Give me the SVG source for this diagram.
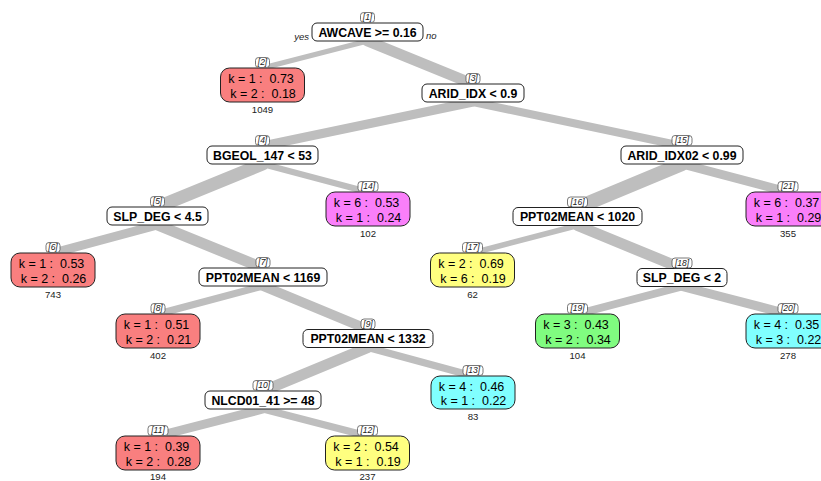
<svg xmlns="http://www.w3.org/2000/svg" width="821" height="481" viewBox="0 0 821 481">
<style>
.br{stroke:#bebebe;stroke-linecap:round;fill:none}
.sp{fill:#fff;stroke:#222;stroke-width:1}
.lf{stroke:#222;stroke-width:1}
.st{font-family:"Liberation Sans",Arial,sans-serif;font-weight:bold;font-size:12.3px;fill:#000;text-anchor:middle}
.lt{font-family:"Liberation Sans",Arial,sans-serif;font-size:12.5px;fill:#000;text-anchor:middle;white-space:pre}
.ct{font-family:"Liberation Sans",Arial,sans-serif;font-size:9.6px;fill:#222;text-anchor:middle}
.tg{fill:#fff;stroke:#555;stroke-width:0.8}
.tt{font-family:"Liberation Sans",Arial,sans-serif;font-style:italic;font-size:8.5px;fill:#222;text-anchor:middle}
.yn{font-family:"Liberation Sans",Arial,sans-serif;font-style:italic;font-size:9.5px;fill:#222}
.red{fill:#f97f7f}.mag{fill:#fa7ffa}.yel{fill:#ffff80}.grn{fill:#80fc80}.cyn{fill:#80ffff}
</style>
<g id="connectors">
<line class="br" stroke-width="5" x1="367.5" y1="41" x2="262.5" y2="68"/>
<line class="br" stroke-width="11" x1="367.5" y1="41" x2="473" y2="84"/>
<line class="br" stroke-width="9" x1="473" y1="102" x2="262.5" y2="146"/>
<line class="br" stroke-width="8" x1="473" y1="102" x2="682" y2="146"/>
<line class="br" stroke-width="13" x1="262.5" y1="164" x2="157.5" y2="207"/>
<line class="br" stroke-width="6" x1="262.5" y1="164" x2="368" y2="192"/>
<line class="br" stroke-width="14" x1="682" y1="164" x2="577.5" y2="207.5"/>
<line class="br" stroke-width="9" x1="682" y1="164" x2="788" y2="192"/>
<line class="br" stroke-width="9" x1="157.5" y1="225" x2="53" y2="253"/>
<line class="br" stroke-width="11" x1="157.5" y1="225" x2="263" y2="268"/>
<line class="br" stroke-width="5.5" x1="577.5" y1="225.5" x2="472.5" y2="253"/>
<line class="br" stroke-width="11" x1="577.5" y1="225.5" x2="682" y2="268.5"/>
<line class="br" stroke-width="7" x1="263" y1="286" x2="158" y2="314"/>
<line class="br" stroke-width="10" x1="263" y1="286" x2="368" y2="329.5"/>
<line class="br" stroke-width="8" x1="682" y1="286.5" x2="577.5" y2="314"/>
<line class="br" stroke-width="9" x1="682" y1="286.5" x2="788" y2="314"/>
<line class="br" stroke-width="11" x1="368" y1="347.5" x2="263" y2="391"/>
<line class="br" stroke-width="7" x1="368" y1="347.5" x2="473" y2="376"/>
<line class="br" stroke-width="9" x1="263" y1="409" x2="158" y2="436"/>
<line class="br" stroke-width="7" x1="263" y1="409" x2="367.5" y2="436"/>
</g>
<text class="yn" x="309" y="40" text-anchor="end">yes</text>
<text class="yn" x="426" y="39">no</text>
<g id="n1"><rect class="sp" x="312" y="23" width="111" height="18" rx="5"/><text class="st" x="367.5" y="36.5">AWCAVE &gt;= 0.16</text><rect class="tg" x="360.5" y="12.5" width="14" height="10" rx="3"/><text class="tt" x="367.5" y="20.2">[1]</text></g>
<g id="n3"><rect class="sp" x="422" y="84" width="102" height="18" rx="5"/><text class="st" x="473" y="97.5">ARID_IDX &lt; 0.9</text><rect class="tg" x="466" y="73.5" width="14" height="10" rx="3"/><text class="tt" x="473" y="81.2">[3]</text></g>
<g id="n4"><rect class="sp" x="207" y="146" width="111" height="18" rx="5"/><text class="st" x="262.5" y="159.5">BGEOL_147 &lt; 53</text><rect class="tg" x="255.5" y="135.5" width="14" height="10" rx="3"/><text class="tt" x="262.5" y="143.2">[4]</text></g>
<g id="n15"><rect class="sp" x="621" y="146" width="122" height="18" rx="5"/><text class="st" x="682" y="159.5">ARID_IDX02 &lt; 0.99</text><rect class="tg" x="672" y="135.5" width="20" height="10" rx="3"/><text class="tt" x="682" y="143.2">[15]</text></g>
<g id="n5"><rect class="sp" x="107" y="207" width="101" height="18" rx="5"/><text class="st" x="157.5" y="220.5">SLP_DEG &lt; 4.5</text><rect class="tg" x="150.5" y="196.5" width="14" height="10" rx="3"/><text class="tt" x="157.5" y="204.2">[5]</text></g>
<g id="n16"><rect class="sp" x="513" y="207.5" width="129" height="18" rx="5"/><text class="st" x="577.5" y="221">PPT02MEAN &lt; 1020</text><rect class="tg" x="567.5" y="197" width="20" height="10" rx="3"/><text class="tt" x="577.5" y="204.7">[16]</text></g>
<g id="n7"><rect class="sp" x="199" y="268" width="128" height="18" rx="5"/><text class="st" x="263" y="281.5">PPT02MEAN &lt; 1169</text><rect class="tg" x="256" y="257.5" width="14" height="10" rx="3"/><text class="tt" x="263" y="265.2">[7]</text></g>
<g id="n18"><rect class="sp" x="637" y="268.5" width="90" height="18" rx="5"/><text class="st" x="682" y="282">SLP_DEG &lt; 2</text><rect class="tg" x="672" y="258" width="20" height="10" rx="3"/><text class="tt" x="682" y="265.7">[18]</text></g>
<g id="n9"><rect class="sp" x="303" y="329.5" width="130" height="18" rx="5"/><text class="st" x="368" y="343">PPT02MEAN &lt; 1332</text><rect class="tg" x="361" y="319" width="14" height="10" rx="3"/><text class="tt" x="368" y="326.7">[9]</text></g>
<g id="n10"><rect class="sp" x="205" y="391" width="116" height="18" rx="5"/><text class="st" x="263" y="404.5">NLCD01_41 &gt;= 48</text><rect class="tg" x="253" y="380.5" width="20" height="10" rx="3"/><text class="tt" x="263" y="388.2">[10]</text></g>
<g id="n2"><rect class="lf red" x="220.5" y="68" width="84" height="34" rx="9"/><text class="lt" x="261" y="83">k = 1 :  0.73</text><text class="lt" x="263" y="98">k = 2 :  0.18</text><text class="ct" x="262.5" y="113">1049</text><rect class="tg" x="255.5" y="57.5" width="14" height="10" rx="3"/><text class="tt" x="262.5" y="65.2">[2]</text></g>
<g id="n14"><rect class="lf mag" x="326" y="192" width="84" height="34" rx="9"/><text class="lt" x="366.5" y="207">k = 6 :  0.53</text><text class="lt" x="368.5" y="222">k = 1 :  0.24</text><text class="ct" x="368" y="237">102</text><rect class="tg" x="358" y="181.5" width="20" height="10" rx="3"/><text class="tt" x="368" y="189.2">[14]</text></g>
<g id="n6"><rect class="lf red" x="11" y="253" width="84" height="34" rx="9"/><text class="lt" x="51.5" y="268">k = 1 :  0.53</text><text class="lt" x="53.5" y="283">k = 2 :  0.26</text><text class="ct" x="53" y="298">743</text><rect class="tg" x="46" y="242.5" width="14" height="10" rx="3"/><text class="tt" x="53" y="250.2">[6]</text></g>
<g id="n8"><rect class="lf red" x="116" y="314" width="84" height="34" rx="9"/><text class="lt" x="156.5" y="329">k = 1 :  0.51</text><text class="lt" x="158.5" y="344">k = 2 :  0.21</text><text class="ct" x="158" y="359">402</text><rect class="tg" x="151" y="303.5" width="14" height="10" rx="3"/><text class="tt" x="158" y="311.2">[8]</text></g>
<g id="n13"><rect class="lf cyn" x="431" y="376" width="84" height="33" rx="9"/><text class="lt" x="471.5" y="390.5">k = 4 :  0.46</text><text class="lt" x="473.5" y="405">k = 1 :  0.22</text><text class="ct" x="473" y="420">83</text><rect class="tg" x="463" y="365.5" width="20" height="10" rx="3"/><text class="tt" x="473" y="373.2">[13]</text></g>
<g id="n11"><rect class="lf red" x="116" y="436" width="84" height="34" rx="9"/><text class="lt" x="156.5" y="451">k = 1 :  0.39</text><text class="lt" x="158.5" y="466">k = 2 :  0.28</text><text class="ct" x="158" y="480">194</text><rect class="tg" x="148" y="425.5" width="20" height="10" rx="3"/><text class="tt" x="158" y="433.2">[11]</text></g>
<g id="n12"><rect class="lf yel" x="325.5" y="436" width="84" height="34" rx="9"/><text class="lt" x="366" y="451">k = 2 :  0.54</text><text class="lt" x="368" y="466">k = 1 :  0.19</text><text class="ct" x="367.5" y="480">237</text><rect class="tg" x="357.5" y="425.5" width="20" height="10" rx="3"/><text class="tt" x="367.5" y="433.2">[12]</text></g>
<g id="n21"><rect class="lf mag" x="746" y="192" width="84" height="34" rx="9"/><text class="lt" x="786.5" y="207">k = 6 :  0.37</text><text class="lt" x="788.5" y="222">k = 1 :  0.29</text><text class="ct" x="788" y="237">355</text><rect class="tg" x="778" y="181.5" width="20" height="10" rx="3"/><text class="tt" x="788" y="189.2">[21]</text></g>
<g id="n17"><rect class="lf yel" x="430.5" y="253" width="84" height="34" rx="9"/><text class="lt" x="471" y="268">k = 2 :  0.69</text><text class="lt" x="473" y="283">k = 6 :  0.19</text><text class="ct" x="472.5" y="298">62</text><rect class="tg" x="462.5" y="242.5" width="20" height="10" rx="3"/><text class="tt" x="472.5" y="250.2">[17]</text></g>
<g id="n19"><rect class="lf grn" x="535.5" y="314" width="84" height="34" rx="9"/><text class="lt" x="576" y="329">k = 3 :  0.43</text><text class="lt" x="578" y="344">k = 2 :  0.34</text><text class="ct" x="577.5" y="359">104</text><rect class="tg" x="567.5" y="303.5" width="20" height="10" rx="3"/><text class="tt" x="577.5" y="311.2">[19]</text></g>
<g id="n20"><rect class="lf cyn" x="746" y="314" width="84" height="34" rx="9"/><text class="lt" x="786.5" y="329">k = 4 :  0.35</text><text class="lt" x="788.5" y="344">k = 3 :  0.22</text><text class="ct" x="788" y="359">278</text><rect class="tg" x="778" y="303.5" width="20" height="10" rx="3"/><text class="tt" x="788" y="311.2">[20]</text></g>
</svg>
